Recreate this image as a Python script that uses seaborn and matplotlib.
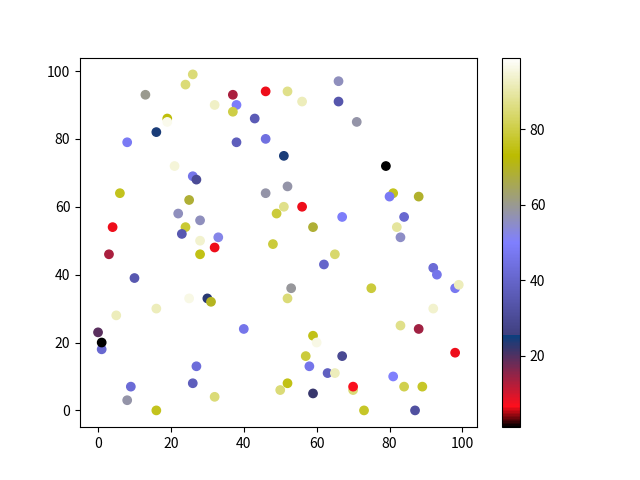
import numpy as np
import pandas as pd
import seaborn as sns
import matplotlib
matplotlib.use("Agg")
import matplotlib.pyplot as plt
from matplotlib.colors import Normalize
from matplotlib.cm import ScalarMappable

plt.rcParams['font.family'] = ['Noto Sans CJK SC', 'DejaVu Sans']

# point positions and colour values
x = [26, 24, 13, 37, 46, 32, 38, 37, 43, 19, 19, 16, 8, 38, 46, 51, 21, 26, 27, 6,
     25, 46, 49, 22, 28, 4, 24, 23, 28, 33, 32, 48, 52, 56, 66, 66, 71, 79, 52, 51,
     56, 59, 67, 81, 80, 88, 84, 82, 83, 28, 3, 10, 25, 30, 31, 16, 5, 40, 0, 1,
     1, 21, 27, 26, 9, 8, 16, 32, 65, 62, 53, 52, 75, 92, 93, 98, 99, 92, 83, 88,
     98, 59, 60, 57, 67, 58, 63, 65, 81, 52, 50, 59, 70, 70, 84, 89, 73, 87]
y = [99, 96, 93, 93, 94, 90, 90, 88, 86, 86, 85, 82, 79, 79, 80, 75, 72, 69, 68, 64,
     62, 64, 58, 58, 56, 54, 54, 52, 50, 51, 48, 49, 94, 91, 97, 91, 85, 72, 66, 60,
     60, 54, 57, 64, 63, 63, 57, 54, 51, 46, 46, 39, 33, 33, 32, 30, 28, 24, 23, 18,
     20, 16, 13, 8, 7, 3, 0, 4, 46, 43, 36, 33, 36, 42, 40, 36, 37, 30, 25, 24,
     17, 22, 20, 16, 16, 13, 11, 11, 10, 8, 6, 5, 6, 7, 7, 7, 0, 0]
c = [85, 85, 60, 13, 6, 93, 49, 80, 36, 74, 97, 24, 48, 37, 44, 24, 95, 46, 30, 76,
     68, 58, 79, 56, 56, 6, 78, 35, 94, 52, 6, 79, 87, 92, 56, 34, 58, 1, 58, 87,
     6, 68, 49, 76, 48, 69, 41, 89, 55, 75, 13, 35, 96, 23, 70, 92, 92, 46, 19, 41,
     1, 99, 43, 37, 42, 58, 76, 85, 84, 40, 59, 85, 79, 42, 46, 47, 92, 94, 87, 14,
     6, 75, 96, 79, 29, 46, 38, 92, 50, 75, 85, 22, 85, 7, 81, 77, 77, 32]

df = pd.DataFrame({"x": x, "y": y, "c": c})

fig, ax = plt.subplots(figsize=(6.4, 4.8), dpi=100)
norm = Normalize(vmin=min(c), vmax=max(c))
sns.scatterplot(data=df, x="x", y="y", hue="c", palette="gist_stern",
                hue_norm=norm, s=36, edgecolor="face", linewidth=1,
                legend=False, ax=ax)
ax.set_xlabel("")
ax.set_ylabel("")

sm = ScalarMappable(norm=norm, cmap="gist_stern")
fig.colorbar(sm, ax=ax)

fig.savefig("out.png", dpi=100)
